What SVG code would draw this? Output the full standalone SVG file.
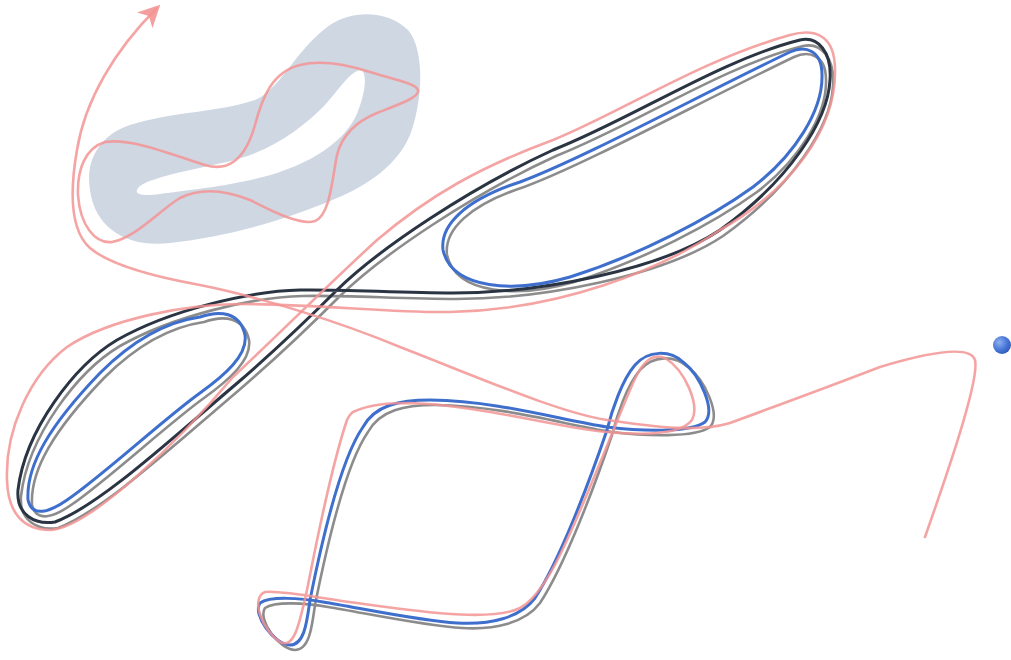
<svg xmlns="http://www.w3.org/2000/svg" width="1011" height="660" viewBox="0 0 1011 660">
<style>
.ln{fill:none;stroke-linecap:round;stroke-linejoin:round}
.navy{stroke:#2a3442;stroke-width:3}
.grey{stroke:#8c8c8c;stroke-width:2.6}
.blue{stroke:#3f6fcc;stroke-width:3}
.pink{stroke:#f39494;stroke-width:2.6;stroke-opacity:0.85}
</style>
<defs>
<radialGradient id="dot" cx="0.35" cy="0.35" r="0.7">
<stop offset="0" stop-color="#8fb0f0"/>
<stop offset="0.6" stop-color="#4a78d8"/>
<stop offset="1" stop-color="#2f5cbc"/>
</radialGradient>
<marker id="arr" viewBox="0 0 22 22" refX="16" refY="11" markerWidth="22" markerHeight="22" markerUnits="userSpaceOnUse" orient="auto">
<path d="M0,0 L22,11 L0,22 L6,11 Z" fill="#f39494" fill-opacity="0.9"/>
</marker>
<path id="eight" d="M337,290 C380,248 470,188 553,150 C630,120 720,60 800,40 C818,36 832,52 830,80 C828,120 790,180 720,230 C660,270 540,293 453,293 C400,293 340,289 300,290 C250,291 170,310 117,340 C75,365 25,430 18,490 C16,515 35,525 55,522 C100,505 170,440 235,385 C270,355 310,317 337,290 Z"/>
<path id="bup" d="M443,250 C440,225 465,200 520,182 C580,160 700,95 790,52 C805,45 822,50 822,75 C823,110 795,155 753,187 C710,218 640,255 570,277 C515,293 452,290 443,250 Z"/>
<path id="blow" d="M200,317 C220,310 240,312 245,335 C248,355 225,375 200,393 C165,418 100,478 67,500 C50,512 32,518 28,500 C26,465 50,425 100,373 C130,343 165,322 200,317 Z"/>
<path id="bsq" d="M363,427 C375,405 400,400 430,400 C500,401 560,420 607,427 C640,431 690,433 705,422 C716,410 700,375 683,362 C670,350 648,350 635,365 C622,380 612,410 607,430 C590,480 560,560 535,598 C520,618 490,625 457,623 C420,621 360,608 323,602 C300,598 270,596 260,603 C252,615 275,645 290,645 C305,645 307,620 310,600 C320,550 340,460 363,427 Z"/>
</defs>
<g id="blob">
<path fill="#cfd7e3" fill-rule="evenodd" d="M90,190 C85,160 100,135 130,125 C170,112 220,112 255,100 C280,90 295,50 330,25 C355,8 390,12 408,30 C425,50 423,100 410,135 C395,170 360,190 320,205 C270,225 220,237 170,243 C130,248 95,230 90,190 Z M137,190 C140,180 180,172 227,162 C270,152 300,130 325,105 C340,88 350,72 360,70 C368,70 366,95 355,118 C340,145 310,162 277,173 C240,185 190,190 160,194 C145,196 135,195 137,190 Z"/>
</g>
<g id="wavy-loop">
<path class="ln pink" d="M105,142 C130,138 165,152 205,165 C228,172 245,160 255,125 C262,98 272,72 300,65 C320,60 345,64 370,72 C392,79 415,83 418,90 C420,97 400,104 377,113 C355,122 342,135 337,155 C332,180 330,215 315,221 C300,226 270,210 250,200 C225,190 200,188 180,198 C160,210 135,238 112,242 C95,244 80,225 78,195 C77,170 85,148 105,142 Z"/>
</g>
<g id="grey-shadows">
<use href="#eight" class="ln grey" transform="translate(3,6)"/>
<use href="#bup" class="ln grey" transform="translate(4,5)"/>
<use href="#blow" class="ln grey" transform="translate(4,5)"/>
<use href="#bsq" class="ln grey" transform="translate(5,5)"/>
</g>
<g id="figure-eight">
<use href="#eight" class="ln navy"/>
</g>
<g id="blue-loops">
<use href="#bup" class="ln blue"/>
<use href="#blow" class="ln blue"/>
<use href="#bsq" class="ln blue"/>
</g>
<g id="pink-curves">
<path class="ln pink" d="M233,377 C280,333 330,283 377,240 C430,195 480,167 553,140 C620,113 700,60 790,35 C815,28 835,35 835,70 C836,130 790,190 720,230 C660,270 560,310 450,312 C390,313 320,304 240,304 C190,304 110,318 67,347 C30,375 5,430 7,480 C8,515 25,530 50,530 C90,528 180,440 233,377 Z"/>
<path class="ln pink" d="M353,412 C370,404 390,403 410,403 C480,405 560,428 607,432 C640,435 680,436 692,420 C700,405 685,370 665,358 C650,352 640,365 630,390 C615,425 590,490 567,540 C550,578 535,600 520,608 C495,620 440,615 357,603 C320,598 280,590 265,592 C250,598 262,630 280,642 C295,650 300,620 307,590 C315,550 330,470 347,420 Q350,414 353,412 Z"/>
<path class="ln pink" marker-end="url(#arr)" d="M925,537 C945,480 980,380 975,360 C970,345 930,352 880,367 C820,390 760,412 730,423 C700,432 660,428 607,420 C560,413 480,378 400,347 C340,322 260,297 200,285 C150,276 110,265 90,248 C70,230 70,190 77,150 C85,100 115,50 156,9"/>
</g>
<g id="dot-node">
<circle cx="1002" cy="345" r="9" fill="url(#dot)"/>
</g>
</svg>
